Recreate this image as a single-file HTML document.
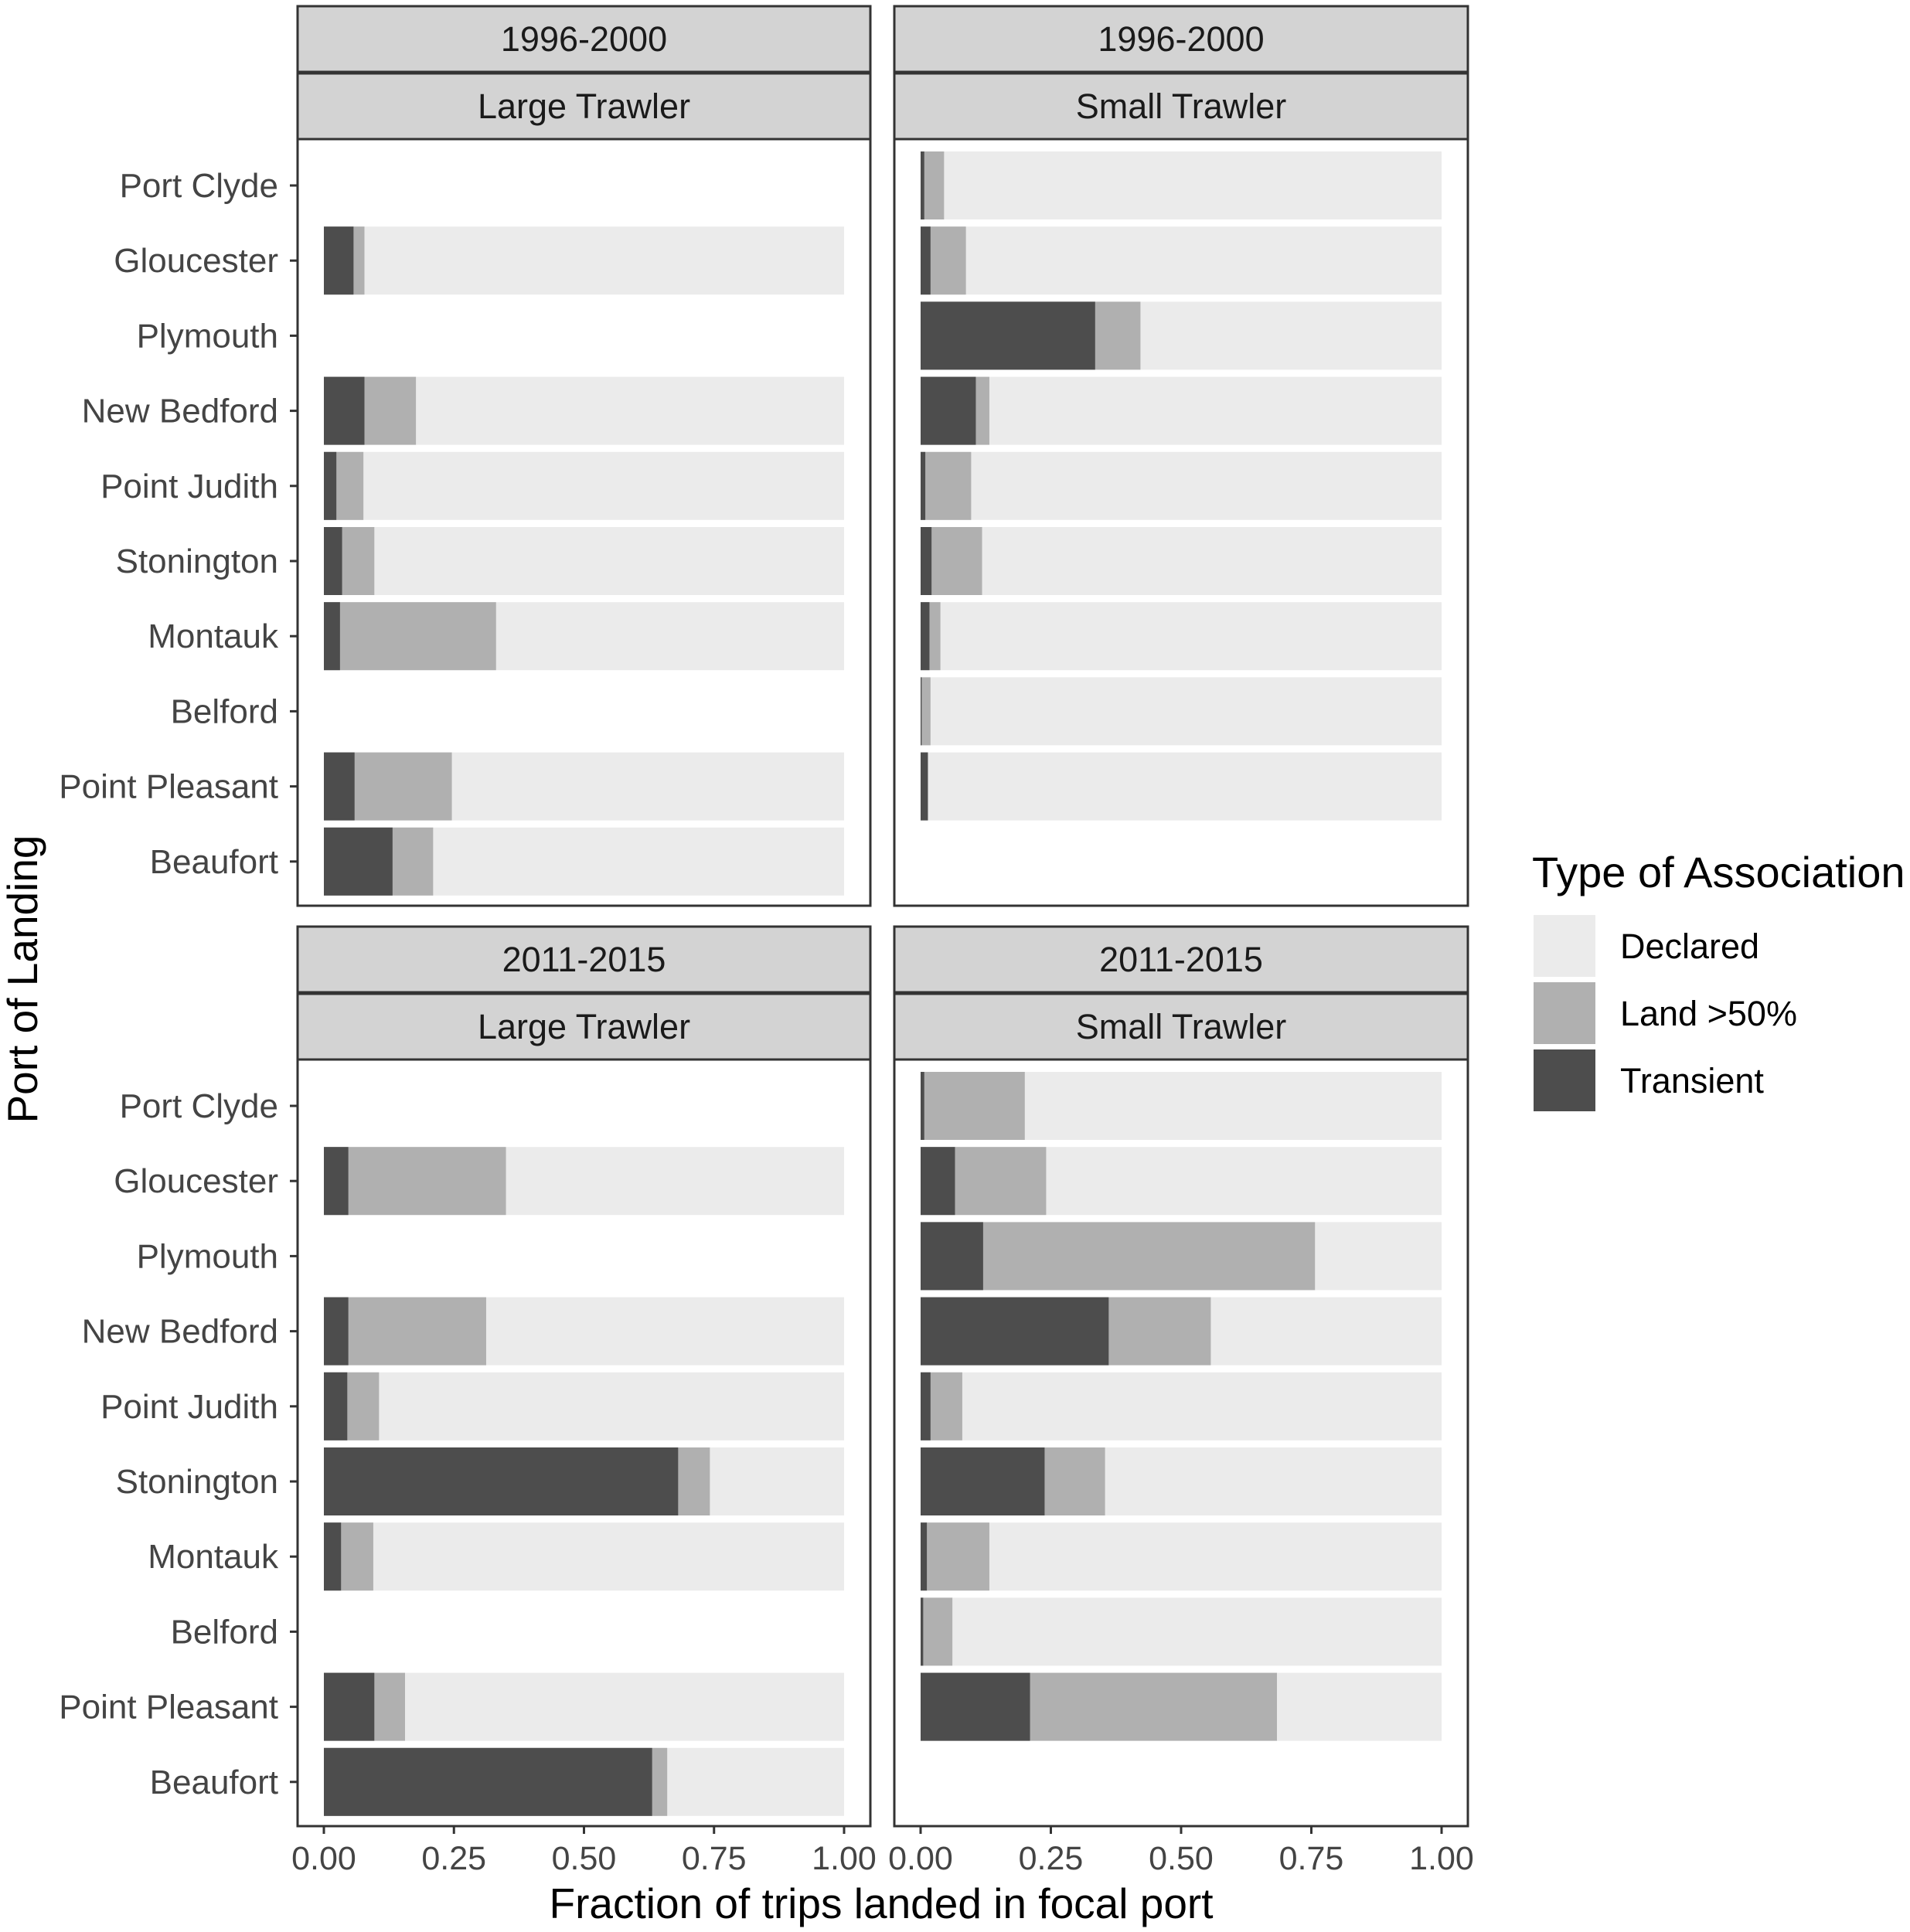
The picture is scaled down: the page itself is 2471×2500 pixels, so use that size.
<!DOCTYPE html>
<html><head><meta charset="utf-8"><style>
html,body{margin:0;padding:0;background:#fff;}
svg{display:block;font-family:"Liberation Sans",sans-serif;}
</style></head><body>
<svg id="chart" width="2471" height="2500" viewBox="0 0 2471 2500" xmlns="http://www.w3.org/2000/svg"></svg>
<script>
const ports = ["Port Clyde","Gloucester","Plymouth","New Bedford","Point Judith","Stonington","Montauk","Belford","Point Pleasant","Beaufort"];
const xTicks = [0,0.25,0.5,0.75,1];
const xTickLabels = ["0.00","0.25","0.50","0.75","1.00"];
// per panel: transient fraction, transient+land>50% cumulative; null = no bar
const lt1996Transient = [null,0.057,null,0.078,0.024,0.035,0.031,null,0.059,0.132];
const lt1996Land = [null,0.078,null,0.177,0.076,0.097,0.331,null,0.246,0.21];
const st1996Transient = [0.007,0.019,0.335,0.106,0.009,0.021,0.017,0.002,0.014,null];
const st1996Land = [0.045,0.087,0.422,0.132,0.097,0.118,0.038,0.019,0.014,null];
const lt2011Transient = [null,0.047,null,0.047,0.045,0.681,0.033,null,0.097,0.631];
const lt2011Land = [null,0.35,null,0.312,0.106,0.742,0.095,null,0.156,0.66];
const st2011Transient = [0.007,0.066,0.12,0.361,0.019,0.238,0.012,0.005,0.21,null];
const st2011Land = [0.2,0.241,0.757,0.557,0.08,0.354,0.132,0.061,0.684,null];

const NS="http://www.w3.org/2000/svg";
const svg=document.getElementById('chart');
function mk(tag,attrs,parent){const e=document.createElementNS(NS,tag);for(const k in attrs)e.setAttribute(k,attrs[k]);(parent||svg).appendChild(e);return e;}
const C={dec:"#ebebeb",land:"#b0b0b0",tr:"#4d4d4d"};
const panels=[
 {period:"1996-2000",type:"Large Trawler",x0:385,x1:1126,top:8,T:lt1996Transient,L:lt1996Land,name:"panel-1996-large"},
 {period:"1996-2000",type:"Small Trawler",x0:1157,x1:1899,top:8,T:st1996Transient,L:st1996Land,name:"panel-1996-small"},
 {period:"2011-2015",type:"Large Trawler",x0:385,x1:1126,top:1199,T:lt2011Transient,L:lt2011Land,name:"panel-2011-large"},
 {period:"2011-2015",type:"Small Trawler",x0:1157,x1:1899,top:1199,T:st2011Transient,L:st2011Land,name:"panel-2011-small"}];
panels.forEach((p,pi)=>{
 const g=mk('g',{});
 
 
 const s1=p.top,s2=p.top+87,pt=p.top+172,pb=p.top+1164;
 const xs=v=>p.x0+34+v*(p.x1-p.x0-68);
 const ys=i=>pt+60+i*97.2;
 const r1=mk('rect',{x:p.x0,y:s1,width:p.x1-p.x0,height:85,fill:"#d3d3d3",stroke:"#333","stroke-width":3},g);
 
 const t1=mk('text',{x:(p.x0+p.x1)/2,y:s1+58,"text-anchor":"middle","font-size":45,fill:"#1a1a1a"},g);t1.textContent=p.period;
 
 const r2=mk('rect',{x:p.x0,y:s2,width:p.x1-p.x0,height:85,fill:"#d3d3d3",stroke:"#333","stroke-width":3},g);
 
 const t2=mk('text',{x:(p.x0+p.x1)/2,y:s2+58,"text-anchor":"middle","font-size":45,fill:"#1a1a1a"},g);t2.textContent=p.type;
 
 ports.forEach((port,i)=>{
  if(p.T[i]===null)return;
  const y=ys(i)-44,h=88;
  const b1=mk('rect',{x:xs(0),y:y,width:xs(1)-xs(0),height:h,fill:C.dec},g);
  
  const b2=mk('rect',{x:xs(0),y:y,width:xs(p.L[i])-xs(0),height:h,fill:C.land},g);
  
  const b3=mk('rect',{x:xs(0),y:y,width:xs(p.T[i])-xs(0),height:h,fill:C.tr},g);
  
 });
 const fr=mk('rect',{x:p.x0,y:pt,width:p.x1-p.x0,height:pb-pt,fill:"none",stroke:"#333","stroke-width":3},g);
 
 if(p.x0<500){
  ports.forEach((port,i)=>{
   const tk=mk('line',{x1:p.x0-10,x2:p.x0,y1:ys(i),y2:ys(i),stroke:"#333","stroke-width":3},g);
   
   const tl=mk('text',{x:p.x0-25,y:ys(i)+15,"text-anchor":"end","font-size":44,fill:"#444"},g);tl.textContent=port;
   
  });
 }
 if(p.top>1000){
  xTicks.forEach((v,k)=>{
   const tk=mk('line',{x1:xs(v),x2:xs(v),y1:pb,y2:pb+10,stroke:"#333","stroke-width":3},g);
   
   const tl=mk('text',{x:xs(v),y:pb+56,"text-anchor":"middle","font-size":43,fill:"#444"},g);tl.textContent=xTickLabels[k];
   
  });
 }
});
const xt=mk('text',{x:1140,y:2482,"text-anchor":"middle","font-size":55,fill:"#000"});xt.textContent="Fraction of trips landed in focal port";

const yt=mk('text',{x:0,y:0,"text-anchor":"middle","font-size":55,fill:"#000",transform:"translate(48,1267) rotate(-90)"});yt.textContent="Port of Landing";

const lg=mk('g',{});

const lt=mk('text',{x:1982,y:1148,"font-size":56,fill:"#000"},lg);lt.textContent="Type of Association";

const legItems=[["Declared",C.dec],["Land >50%",C.land],["Transient",C.tr]];
legItems.forEach((it,i)=>{
 const y=1184+i*87;
 const r=mk('rect',{x:1984,y:y,width:80,height:80,fill:it[1]},lg);
 
 const t=mk('text',{x:2096,y:y+56,"font-size":45,fill:"#000"},lg);t.textContent=it[0];
 
});
</script>
</body></html>
